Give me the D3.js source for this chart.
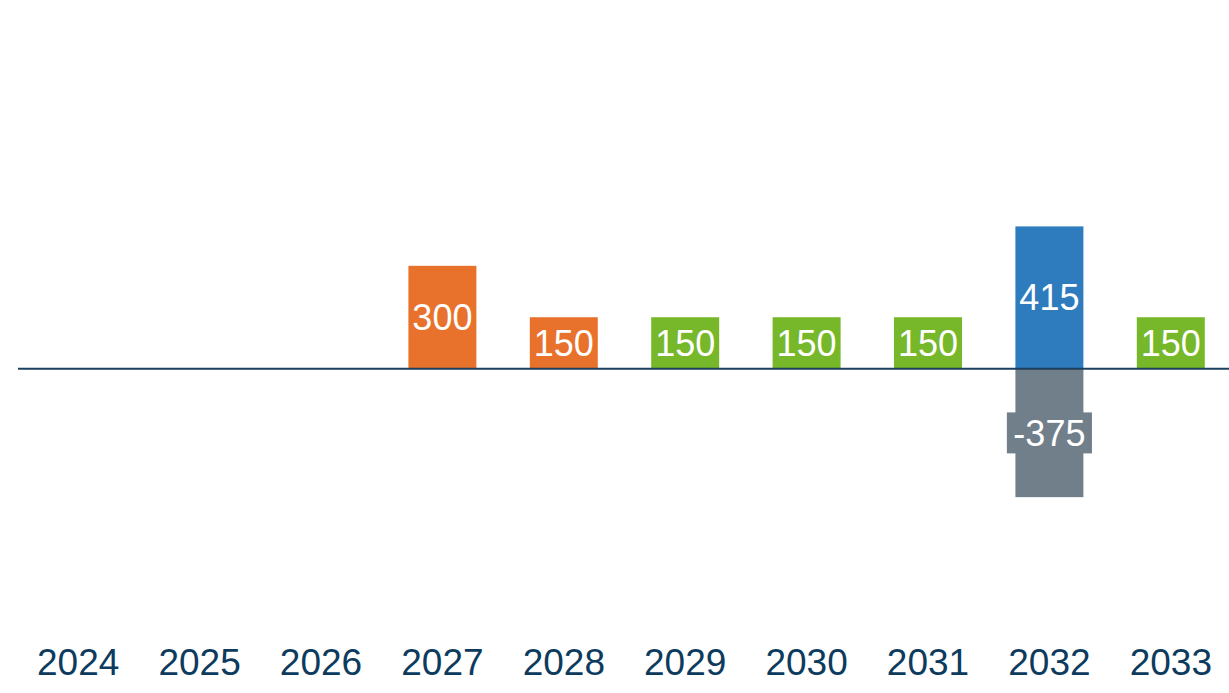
<!DOCTYPE html>
<html>
<head>
<meta charset="UTF-8">
<style>
  body { margin: 0; background: #fff; }
  svg text { font-family: "Liberation Sans", Arial, helvetica, sans-serif; }
  .axis path, .axis line { display: none; }
  .axis text { fill: #0d3b5e; font-size: 37px; }
  .val { fill: #fff; font-size: 36px; }
</style>
<script src="https://d3js.org/d3.v7.min.js"></script>
</head>
<body>
<svg></svg>
<script>
// data
var years = ['2024', '2025', '2026', '2027', '2028', '2029', '2030', '2031', '2032', '2033'];
var orangeVals = [null, null, null, 300, 150, null, null, null, null, null];
var greenVals  = [null, null, null, null, null, 150, 150, 150, null, 150];
var blueVals   = [null, null, null, null, null, null, null, null, 415, null];
var greyVals   = [null, null, null, null, null, null, null, null, -375, null];

var series = [
  { name: 'orange', color: '#e8722c', values: orangeVals },
  { name: 'green',  color: '#76b82a', values: greenVals },
  { name: 'blue',   color: '#2e7bbd', values: blueVals },
  { name: 'grey',   color: '#717f8b', values: greyVals }
];

var W = 1229, H = 693;
var svg = d3.select('svg').attr('width', W).attr('height', H);

var x = d3.scaleBand()
  .domain(years)
  .range([17.5, 1231.5])
  .paddingInner(0.44)
  .paddingOuter(0.22);

var y = d3.scaleLinear()
  .domain([-500, 600])
  .range([540, 163]);

// flatten to bars
var bars = [];
series.forEach(function(s) {
  s.values.forEach(function(v, i) {
    if (v !== null) bars.push({ year: years[i], value: v, color: s.color });
  });
});

var g = svg.append('g');

g.selectAll('.bar')
  .data(bars)
  .enter().append('rect')
    .attr('class', 'bar')
    .attr('x', function(d) { return x(d.year); })
    .attr('width', x.bandwidth())
    .attr('y', function(d) { return y(Math.max(0, d.value)); })
    .attr('height', function(d) { return Math.abs(y(d.value) - y(0)); })
    .style('fill', function(d) { return d.color; });

// zero line
g.append('line')
  .attr('x1', 18).attr('x2', W)
  .attr('y1', y(0)).attr('y2', y(0))
  .style('stroke', '#1c3f5e')
  .style('stroke-width', 2);

// value labels, boxed only when wider than the bar
var lab = g.selectAll('.lab')
  .data(bars)
  .enter().append('g')
    .attr('class', 'lab')
    .attr('transform', function(d) {
      var cx = x(d.year) + x.bandwidth() / 2;
      var cy = (y(d.value) + y(0)) / 2;
      return 'translate(' + cx + ',' + cy + ')';
    });

var labText = lab.append('text')
  .attr('class', 'val')
  .attr('text-anchor', 'middle')
  .attr('dy', '0.36em')
  .text(function(d) { return String(d.value); });

labText.each(function(d) {
  var tw = this.getComputedTextLength();
  if (tw <= x.bandwidth()) return;
  var w = tw + 13;
  d3.select(this.parentNode).insert('rect', 'text')
    .attr('x', -w / 2)
    .attr('y', -20.5)
    .attr('width', w)
    .attr('height', 41)
    .style('fill', d.color);
});

// x axis
g.append('g')
  .attr('class', 'axis')
  .attr('transform', 'translate(0,' + 632 + ')')
  .call(d3.axisBottom(x).tickSize(0).tickPadding(0))
  .selectAll('text')
    .attr('dy', '1.17em');
</script>
</body>
</html>
